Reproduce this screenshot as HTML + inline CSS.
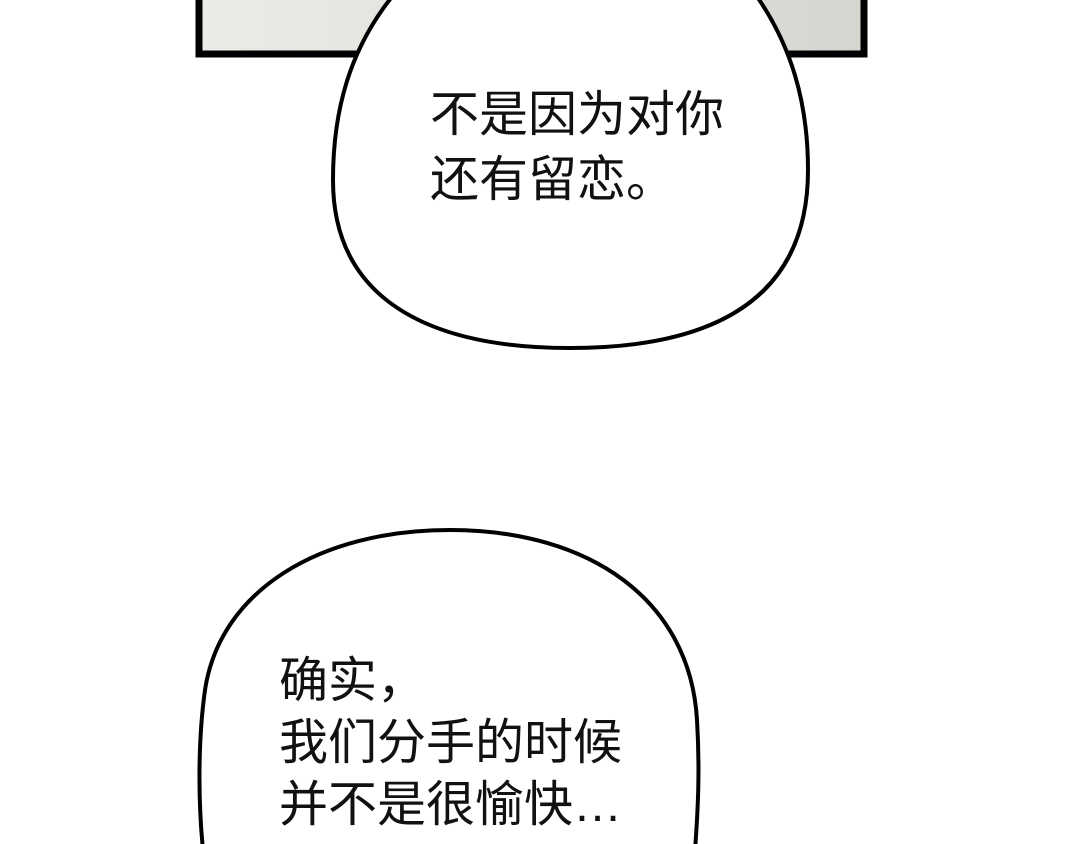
<!DOCTYPE html>
<html><head><meta charset="utf-8"><style>
html,body{margin:0;padding:0;background:#fff;width:1080px;height:844px;overflow:hidden;}
.t{position:absolute;font-family:"Liberation Sans","Noto Sans CJK SC",sans-serif;font-size:49px;color:#111;white-space:nowrap;}
</style></head><body>
<svg width="1080" height="844" style="position:absolute;left:0;top:0">
<defs><linearGradient id="g" x1="0" x2="1"><stop offset="0" stop-color="#ecebe6"/><stop offset="1" stop-color="#d6d5d0"/></linearGradient></defs>
<rect x="199" y="-10" width="665" height="64" fill="url(#g)" stroke="#000" stroke-width="7"/>
<path d="M 391 -2 C 350 50, 333 110, 333 180 C 333 300, 430 348, 570 348 C 720 348, 808 295, 808 170 C 808 100, 790 45, 758 -2 Z" fill="#fff" stroke="#000" stroke-width="4"/>
<path d="M 203 850 C 198 800, 198 740, 205 690 C 220 590, 320 530, 450 530 C 590 530, 690 600, 697 720 C 700 770, 698 810, 695 850" fill="#fff" stroke="#000" stroke-width="4"/>
</svg>
<div class="t" style="left:430px;top:83px;line-height:65px">不是因为对你<br>还有留恋。</div>
<div class="t" style="left:279px;top:650px;line-height:62px">确实，<br>我们分手的时候<br>并不是很愉快…</div>
</body></html>
